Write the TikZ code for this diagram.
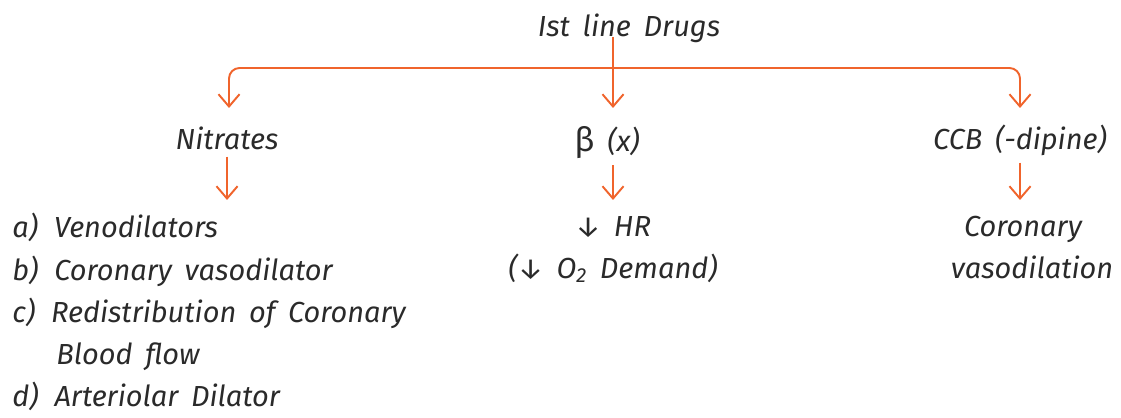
\documentclass[tikz,border=0pt]{standalone}
\usepackage{fontspec}
\setmainfont{Fira Sans}[WordSpace=1.7]
\usepackage{amsmath}
\usetikzlibrary{arrows.meta}
\usetikzlibrary{positioning}
\definecolor{drugorange}{HTML}{F0642C}
\definecolor{inkgray}{HTML}{2A2A2A}

\begin{document}
\begin{tikzpicture}[x=0.02cm, y=-0.02cm, arr/.style={-{Straight Barb[length=7pt, width=12pt]}, draw=drugorange, line width=1.1pt}, font=\fontsize{16.5}{20}\selectfont\itshape\color{inkgray}]
    \tikzstyle{head}=[inner sep=0pt, anchor=base]
    \tikzstyle{item}=[inner sep=0pt, anchor=base west]
    \useasboundingbox (0,0) rectangle (1121,418);

	\node[head] (drugs) at (629,37) {Ist line Drugs};
	\node[head] (nitrates) at (227,150) {Nitrates};
	\node[head] (beta) at (607,152) {{\upshape\fontsize{19}{20}\selectfont β} (x)};
	\node[head] (ccb) at (1020,150) {CCB (-dipine)};

	\node[head] (hr) at (613,237) {{\upshape ↓} HR};
	\node[head] (demand) at (613,278) {({\upshape ↓} O\textsubscript{2} Demand)};
	\node[head] (coronary) at (1023,237) {Coronary};
	\node[head] (vasodil) at (1032,278) {vasodilation};

	\node[item] (itemA) at (12,238) {a)\hspace{0.55em}Venodilators};
	\node[item] (itemB) at (12,280) {b)\hspace{0.55em}Coronary vasodilator};
	\node[item] (itemC) at (12,322) {c)\hspace{0.55em}Redistribution of Coronary};
	\node[item] (itemCc) at (56,364) {Blood flow};
	\node[item] (itemD) at (12,406) {d)\hspace{0.55em}Arteriolar Dilator};

	% tree arrows
	\coordinate (top) at (613,37);
	\coordinate (hub) at (613,68);
	\coordinate (nin) at (229,108);
	\coordinate (bin) at (613,108);
	\coordinate (cin) at (1020,108);
	\draw[arr] (top) -- (bin);
	\draw[arr, rounded corners=6pt] (hub) -| (nin);
	\draw[arr, rounded corners=6pt] (hub) -| (cin);

	\coordinate (nout) at (227,200);
	\coordinate (bout) at (613,200);
	\coordinate (cout) at (1020,200);
	\draw[arr] (nitrates.south -| nout) ++(0,6) -- (nout);
	\draw[arr] (bout |- beta.south) ++(0,6) -- (bout);
	\draw[arr] (ccb.south -| cout) ++(0,6) -- (cout);
\end{tikzpicture}
\end{document}
